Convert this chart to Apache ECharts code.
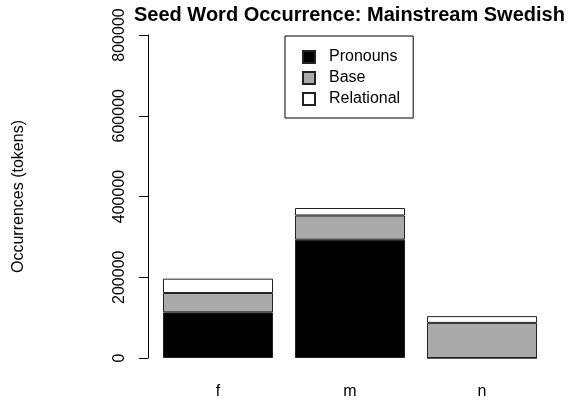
<!DOCTYPE html>
<html>
<head>
<meta charset="utf-8">
<script src="https://cdn.jsdelivr.net/npm/echarts@6/dist/echarts.min.js"></script>
<style>html,body{margin:0;padding:0;background:#fff}#c{width:569px;height:401px}</style>
</head>
<body>
<div id="c"></div>
<script>
const categories = ['f', 'm', 'n'];
const pronouns = [113000, 293000, 0];
const base = [48000, 60000, 87000];
const relational = [35500, 18500, 16700];
const yTicks = [0, 200000, 400000, 600000, 800000];

const FONT = '"Liberation Sans", Arial, Helvetica, sans-serif';
const chart = echarts.init(document.getElementById('c'), null, {renderer: 'canvas'});
function seg(name, data, color) {
  return {
    name: name, type: 'bar', stack: 'total', data: data,
    barWidth: 110,
    itemStyle: {color: color, borderColor: '#222', borderWidth: 1}
  };
}
chart.setOption({
  animation: false,
  backgroundColor: '#fff',
  textStyle: {fontFamily: FONT},
  title: {
    text: 'Seed Word Occurrence: Mainstream Swedish',
    left: 134, top: 5, padding: 0,
    textStyle: {fontFamily: FONT, fontSize: 20, fontWeight: 'bold', color: '#000'}
  },
  legend: {
    orient: 'vertical',
    left: 285, top: 36,
    padding: [13, 13, 11, 17],
    borderColor: '#000', borderWidth: 1,
    itemWidth: 12, itemHeight: 12, itemGap: 5,
    icon: 'rect',
    textStyle: {fontFamily: FONT, fontSize: 16, color: '#000', lineHeight: 16, padding: [0, 0, 0, 9]},
    data: ['Pronouns', 'Base', 'Relational']
  },
  grid: {left: 152, right: 21, top: 35, bottom: 43},
  xAxis: {
    type: 'category', data: categories,
    axisLine: {show: false}, axisTick: {show: false},
    axisLabel: {fontFamily: FONT, fontSize: 16, color: '#000', margin: 26}
  },
  yAxis: {
    type: 'value', min: yTicks[0], max: yTicks[yTicks.length - 1], interval: 200000,
    offset: 4,
    name: 'Occurrences (tokens)', nameLocation: 'middle', nameGap: 121,
    nameTextStyle: {fontFamily: FONT, fontSize: 16, color: '#000'},
    axisLine: {show: true, lineStyle: {color: '#000', width: 1}},
    axisTick: {show: true, length: 9, lineStyle: {color: '#000'}},
    splitLine: {show: false},
    axisLabel: {fontFamily: FONT, fontSize: 16, color: '#000', rotate: 90, margin: 20,
      formatter: v => String(v)}
  },
  series: [
    seg('Pronouns', pronouns, '#000000'),
    seg('Base', base, '#aaaaaa'),
    seg('Relational', relational, '#ffffff')
  ]
});
</script>
</body>
</html>
